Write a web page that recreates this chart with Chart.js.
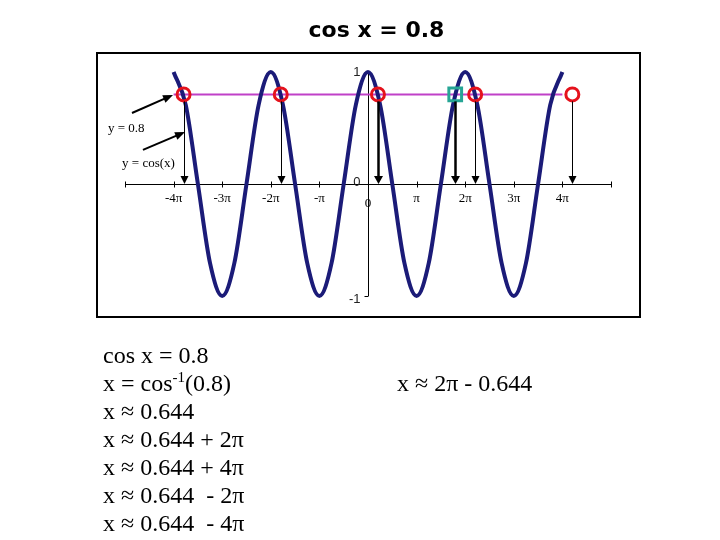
<!DOCTYPE html>
<html><head><meta charset="utf-8">
<script src="https://cdn.jsdelivr.net/npm/chart.js@4/dist/chart.umd.min.js"></script>
<style>
html,body{margin:0;padding:0;background:#fff;}
#wrap{position:relative;width:720px;height:540px;overflow:hidden;background:#fff;}
canvas{position:absolute;left:0;top:0;}
.t{position:absolute;white-space:pre;color:#000;}
#title{left:0;width:753px;top:17px;text-align:center;font:bold 22px "DejaVu Sans";line-height:26px;}
.eq{font-family:"Liberation Serif";font-size:24px;line-height:28px;}
.sup{font-size:15px;line-height:0;position:relative;top:-9px;}
</style></head><body>
<div id="wrap">
<canvas id="c" width="720" height="540"></canvas>
<div id="title" class="t">cos x = 0.8</div>
<div class="t eq" style="left:103px;top:341px">cos x = 0.8
x = cos<span class="sup">-1</span>(0.8)
x ≈ 0.644
x ≈ 0.644 + 2π
x ≈ 0.644 + 4π
x ≈ 0.644  - 2π
x ≈ 0.644  - 4π</div>
<div class="t eq" style="left:397px;top:369px">x ≈ 2π - 0.644</div>
</div>
<script>
// x values are in units of π
const curveX = [-4,-3.75,-3.5,-3.25,-3,-2.75,-2.5,-2.25,-2,-1.75,-1.5,-1.25,-1,-0.75,-0.5,-0.25,0,0.25,0.5,0.75,1,1.25,1.5,1.75,2,2.25,2.5,2.75,3,3.25,3.5,3.75,4];
const curveY = [1,0.707,0,-0.707,-1,-0.707,0,0.707,1,0.707,0,-0.707,-1,-0.707,0,0.707,1,0.707,0,-0.707,-1,-0.707,0,0.707,1,0.707,0,-0.707,-1,-0.707,0,0.707,1];
const levelX = [-4,4];
const levelY = [0.8,0.8];
const rootX = [-3.795,-1.795,0.205,2.205,4.205];
const rootY = [0.8,0.8,0.8,0.8,0.8];
const altX = [1.795];
const altY = [0.8];
const arrowX = [-3.795,-1.795,0.205,1.795,2.205,4.205];
const boldArrowX = [0.205,1.795];
const xAxisTicks = [-5,-4,-3,-2,-1,0,1,2,3,4,5];
const xTickVals = [-4,-3,-2,-1,0,1,2,3,4];
const xTickLabels = ['-4π','-3π','-2π','-π','0','π','2π','3π','4π'];
const yTickVals = [1,0,-1];
const yTickLabels = ['1','0','-1'];
const noteLabels = ['y = 0.8','y = cos(x)'];
const noteAt = [[-5.35,0.495],[-5.06,0.18]];
const noteArrows = [[[-4.856,0.634],[-4.012,0.795]],[[-4.63,0.304],[-3.765,0.464]]];

const pts = (xs, ys) => xs.map((v,i)=>({x:v,y:ys[i]}));

function arrowHead(ctx, x1, y1, x2, y2, len, half){
  const a = Math.atan2(y2-y1, x2-x1);
  ctx.beginPath();
  ctx.moveTo(x2,y2);
  ctx.lineTo(x2 - len*Math.cos(a) + half*Math.sin(a), y2 - len*Math.sin(a) - half*Math.cos(a));
  ctx.lineTo(x2 - len*Math.cos(a) - half*Math.sin(a), y2 - len*Math.sin(a) + half*Math.cos(a));
  ctx.closePath();
  ctx.fill();
}

const axesPlugin = {
  id:'axesPlugin',
  beforeDatasetsDraw(chart){
    const {ctx, scales:{x,y}} = chart;
    const y0 = Math.round(y.getPixelForValue(0)) + 0.5;
    const x0 = Math.round(x.getPixelForValue(0)) + 0.5;
    ctx.save();
    ctx.strokeStyle = '#000'; ctx.lineWidth = 1;
    ctx.beginPath();
    ctx.moveTo(x.getPixelForValue(xAxisTicks[0]), y0);
    ctx.lineTo(x.getPixelForValue(xAxisTicks[xAxisTicks.length-1]), y0);
    xAxisTicks.forEach(v=>{ const px = Math.round(x.getPixelForValue(v))+0.5; ctx.moveTo(px,y0-3); ctx.lineTo(px,y0+3); });
    const yt = Math.round(y.getPixelForValue(yTickVals[0]));
    const yb = Math.round(y.getPixelForValue(yTickVals[yTickVals.length-1]));
    ctx.moveTo(x0, yt); ctx.lineTo(x0, yb);
    yTickVals.forEach(v=>{ const py = Math.round(y.getPixelForValue(v))+0.5; ctx.moveTo(x0-4,py); ctx.lineTo(x0,py); });
    ctx.stroke();
    // x tick labels
    ctx.fillStyle = '#000';
    ctx.font = '13px "Liberation Serif"';
    ctx.textAlign = 'center'; ctx.textBaseline = 'middle';
    xTickVals.forEach((v,i)=>{
      const dy = v === 0 ? 19 : 14;
      ctx.fillText(xTickLabels[i], x.getPixelForValue(v), y0 + dy);
    });
    // y tick labels
    ctx.font = '13px "Liberation Sans"';
    ctx.fillStyle = '#222';
    ctx.textAlign = 'right';
    yTickVals.forEach((v,i)=>{
      const dy = v === 0 ? -2 : (v < 0 ? 3 : 0);
      ctx.fillText(yTickLabels[i], x0 - 8, y.getPixelForValue(v) + dy);
    });
    // annotation labels
    ctx.font = '13px "Liberation Serif"';
    ctx.fillStyle = '#000';
    ctx.textAlign = 'left';
    noteLabels.forEach((s,i)=>{
      ctx.fillText(s, x.getPixelForValue(noteAt[i][0]), y.getPixelForValue(noteAt[i][1]));
    });
    ctx.restore();
  },
  afterDatasetsDraw(chart){
    const {ctx, chartArea:a, scales:{x,y}} = chart;
    ctx.save();
    const y0 = y.getPixelForValue(0);
    ctx.strokeStyle = '#000'; ctx.fillStyle = '#000';
    arrowX.forEach(v=>{
      const px = Math.round(x.getPixelForValue(v)) + 0.5;
      const bold = boldArrowX.includes(v);
      ctx.lineWidth = bold ? 2.5 : 1;
      const top = y.getPixelForValue(0.8) + 7;
      ctx.beginPath(); ctx.moveTo(px, top); ctx.lineTo(px, y0 - 5); ctx.stroke();
      arrowHead(ctx, px, top, px, y0, 8, bold ? 4.5 : 4);
    });
    ctx.lineWidth = 2;
    noteArrows.forEach(([p,q])=>{
      const x1 = x.getPixelForValue(p[0]), y1 = y.getPixelForValue(p[1]);
      const x2 = x.getPixelForValue(q[0]), y2 = y.getPixelForValue(q[1]);
      const ang = Math.atan2(y2-y1, x2-x1);
      ctx.beginPath(); ctx.moveTo(x1,y1); ctx.lineTo(x2 - 6*Math.cos(ang), y2 - 6*Math.sin(ang)); ctx.stroke();
      arrowHead(ctx, x1, y1, x2, y2, 10, 4);
    });
    // plot frame
    ctx.lineWidth = 2;
    ctx.strokeRect(a.left, a.top, a.right - a.left, a.bottom - a.top);
    ctx.restore();
  }
};

new Chart(document.getElementById('c'), {
  type:'line',
  data:{
    datasets:[
      {label:'roots', data:pts(rootX,rootY), showLine:false, pointRadius:6.5, pointBorderWidth:3,
       pointBorderColor:'#e5121c', pointBackgroundColor:'rgba(0,0,0,0)'},
      {label:'2π - x', data:pts(altX,altY), showLine:false, pointStyle:'rect', pointRadius:9, pointBorderWidth:3,
       pointBorderColor:'#26a595', pointBackgroundColor:'rgba(0,0,0,0)'},
      {label:'y = cos(x)', data:pts(curveX,curveY), borderColor:'#1b1b78', borderWidth:4, pointRadius:0,
       cubicInterpolationMode:'monotone', fill:false},
      {label:'y = 0.8', data:pts(levelX,levelY), borderColor:'#c040c8', borderWidth:2, pointRadius:0, fill:false}
    ]
  },
  options:{
    responsive:false, animation:false, events:[], devicePixelRatio:1,
    layout:{padding:{left:97, top:53, right:80, bottom:223}},
    plugins:{legend:{display:false}, tooltip:{enabled:false}, title:{display:false}},
    scales:{
      x:{type:'linear', min:-5.576, max:5.597, display:false},
      y:{type:'linear', min:-1.1875, max:1.1696, display:false}
    }
  },
  plugins:[axesPlugin]
});
</script>
</body></html>
